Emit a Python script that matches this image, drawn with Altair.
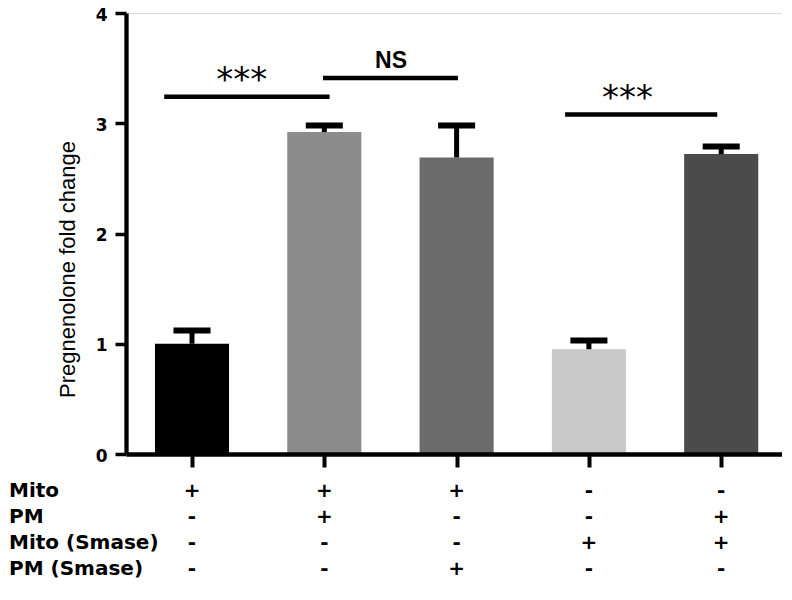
import altair as alt
import pandas as pd

# ---- data ----
groups = [0, 1, 2, 3, 4]
means = [1.00, 2.92, 2.69, 0.95, 2.72]
err_tops = [1.12, 2.98, 2.98, 1.03, 2.79]
bar_colors = ["#000000", "#8c8c8c", "#6b6b6b", "#c9c9c9", "#4b4b4b"]

row_labels = ["Mito", "PM", "Mito (Smase)", "PM (Smase)"]
row_signs = [
    ["+", "+", "+", "-", "-"],
    ["-", "+", "-", "-", "+"],
    ["-", "-", "-", "+", "+"],
    ["-", "-", "+", "-", "-"],
]

# significance brackets
br_x1 = [-0.21, 0.99, 2.82]
br_x2 = [1.04, 2.01, 3.97]
br_y = [3.24, 3.41, 3.08]
br_text = ["***", "NS", "***"]
br_text_x = [0.376, 1.504, 3.292]
br_text_y = [3.295, 3.498, 3.129]

# ---- layout helpers ----
XDOM = [-0.4989, 4.4595]
YDOM = [0, 4]
HALF_BAR = 0.28
HALF_CAP = 0.14
LABEL_X = -1.383
ROW_Y = [-0.336, -0.571, -0.807, -1.043]

xs = alt.Scale(domain=XDOM, nice=False, zero=False)
ys = alt.Scale(domain=YDOM, nice=False, zero=True)

bars_df = pd.DataFrame({
    "g": groups,
    "x1": [g - HALF_BAR for g in groups],
    "x2": [g + HALF_BAR for g in groups],
    "cx1": [g - HALF_CAP for g in groups],
    "cx2": [g + HALF_CAP for g in groups],
    "mean": means,
    "top": err_tops,
    "color": bar_colors,
})

y_axis = alt.Axis(
    values=[0, 1, 2, 3, 4], format="d", grid=False,
    labelFont="DejaVu Sans", labelFontWeight="bold", labelFontSize=17,
    labelColor="#000", labelPadding=8, labelOffset=2,
    tickColor="#000", tickWidth=3.5, tickSize=11,
    domainColor="#000", domainWidth=4.3,
    title="Pregnenolone fold change", titleFont="Liberation Sans",
    titleFontSize=22, titleFontWeight="normal", titleColor="#000",
    titleX=-59, titleY=256, titleAngle=270, titleAlign="center",
    titleBaseline="middle", zindex=1,
)
x_axis = alt.Axis(
    values=groups, labels=False, grid=False, title=None,
    tickColor="#000", tickWidth=4, tickSize=13,
    domainColor="#000", domainWidth=4.3, zindex=1,
)

base = alt.Chart(bars_df)

bars = base.mark_bar().encode(
    x=alt.X("x1:Q", scale=xs, axis=x_axis),
    x2="x2:Q",
    y=alt.Y("mean:Q", scale=ys, axis=y_axis),
    y2=alt.datum(0),
    color=alt.Color("color:N", scale=None),
)

err_lines = base.mark_rule(color="#000", strokeWidth=5).encode(
    x=alt.X("g:Q", scale=xs), y=alt.Y("mean:Q", scale=ys), y2="top:Q"
)
err_caps = base.mark_rule(color="#000", strokeWidth=6).encode(
    x=alt.X("cx1:Q", scale=xs), x2="cx2:Q", y=alt.Y("top:Q", scale=ys)
)

br_df = pd.DataFrame({"x1": br_x1, "x2": br_x2, "y": br_y})
brackets = alt.Chart(br_df).mark_rule(color="#000", strokeWidth=4.5).encode(
    x=alt.X("x1:Q", scale=xs), x2="x2:Q", y=alt.Y("y:Q", scale=ys)
)

stars_df = pd.DataFrame({"x": [br_text_x[0], br_text_x[2]],
                         "y": [br_text_y[0], br_text_y[2]],
                         "t": [br_text[0], br_text[2]]})
stars = alt.Chart(stars_df).mark_text(
    font="DejaVu Sans", fontSize=34, align="center", baseline="alphabetic", color="#000"
).encode(x=alt.X("x:Q", scale=xs), y=alt.Y("y:Q", scale=ys), text="t:N")

ns_df = pd.DataFrame({"x": [br_text_x[1]], "y": [br_text_y[1]], "t": [br_text[1]]})
ns = alt.Chart(ns_df).mark_text(
    font="Liberation Sans", fontSize=23, fontWeight="bold", align="center",
    baseline="alphabetic", color="#000"
).encode(x=alt.X("x:Q", scale=xs), y=alt.Y("y:Q", scale=ys), text="t:N")

lab_df = pd.DataFrame({"x": [LABEL_X] * len(row_labels), "y": ROW_Y, "t": row_labels})
row_text = alt.Chart(lab_df).mark_text(
    font="DejaVu Sans", fontSize=20, fontWeight="bold", align="left",
    baseline="middle", color="#000"
).encode(x=alt.X("x:Q", scale=xs), y=alt.Y("y:Q", scale=ys), text="t:N")

sign_rows = []
for r, signs in enumerate(row_signs):
    for g, s in zip(groups, signs):
        sign_rows.append({"x": g, "y": ROW_Y[r], "t": s})
sign_df = pd.DataFrame(sign_rows)
sign_text = alt.Chart(sign_df).mark_text(
    font="DejaVu Sans", fontSize=20, fontWeight="bold", align="center",
    baseline="middle", color="#000"
).encode(x=alt.X("x:Q", scale=xs), y=alt.Y("y:Q", scale=ys), text="t:N")

chart = alt.layer(
    bars, err_lines, err_caps, brackets, stars, ns, row_text, sign_text
).properties(
    width=656, height=441,
    autosize=alt.AutoSizeParams(type="none"),
    padding={"left": 118, "top": 5, "right": 0, "bottom": 126},
).configure_view(stroke=None).configure(background="white")

chart.save("out.html", embed_options={"renderer": "svg", "actions": False})
